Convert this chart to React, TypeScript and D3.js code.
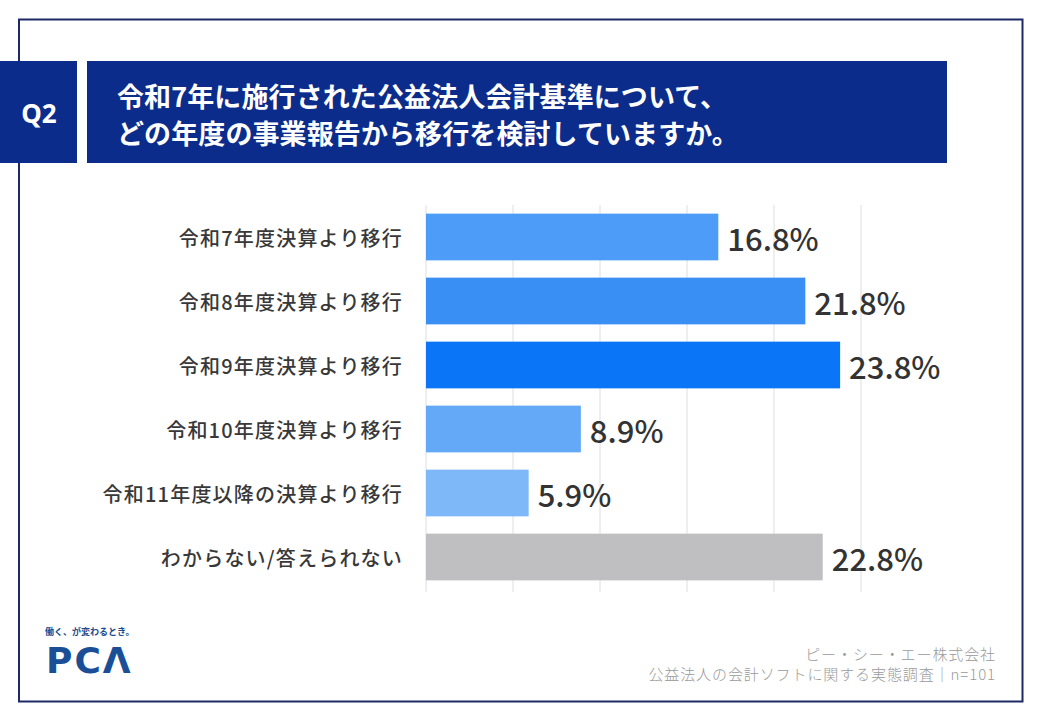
import React from 'react';
import * as d3 from 'd3';

// Survey answers and their shares (%)
const categories = [
  '令和7年度決算より移行',
  '令和8年度決算より移行',
  '令和9年度決算より移行',
  '令和10年度決算より移行',
  '令和11年度以降の決算より移行',
  'わからない/答えられない',
];
const values = [16.8, 21.8, 23.8, 8.9, 5.9, 22.8];
const barColors = ['#4d9cf7', '#3a8ff5', '#0a75f6', '#63a9f7', '#7fb8f8', '#bfbec1'];
const gridTicks = [0, 5, 10, 15, 20, 25];

const titleLines = [
  '令和7年に施行された公益法人会計基準について、',
  'どの年度の事業報告から移行を検討していますか。',
];
const footerLines = ['ピー・シー・エー株式会社', '公益法人の会計ソフトに関する実態調査｜n=101'];

const W = 1040;
const H = 720;
const JP = '"Noto Sans CJK JP", "Noto Sans", sans-serif';
const NAVY = '#0c2c8c';

const App: React.FC = () => {
  const x = d3.scaleLinear().domain([0, 25]).range([426, 861]);
  const y = d3
    .scaleBand<string>()
    .domain(categories)
    .range([205, 589])
    .paddingInner(0.27)
    .paddingOuter(0.135);

  const gridTop = 205;
  const gridBottom = 592;

  return (
    <svg
      width={W}
      height={H}
      viewBox={`0 0 ${W} ${H}`}
      style={{ position: 'absolute', left: 0, top: 0, background: '#fff' }}
    >
      <rect x={0} y={0} width={W} height={H} fill="#fff" />

      {/* outer frame */}
      <rect x={19} y={19.5} width={1003.5} height={682} fill="none" stroke="#1d2a66" strokeWidth={2} />

      {/* question header */}
      <rect x={0} y={61} width={77} height={102} fill={NAVY} />
      <text
        x={39}
        y={113}
        textAnchor="middle"
        dominantBaseline="central"
        fill="#fff"
        fontFamily='"Noto Sans", sans-serif'
        fontWeight={700}
        fontSize={26}
      >
        Q2
      </text>
      <rect x={87} y={61} width={860} height={102} fill={NAVY} />
      {titleLines.map((line, i) => (
        <text
          key={line}
          x={117}
          y={95 + i * 37}
          dominantBaseline="central"
          fill="#fff"
          fontFamily={JP}
          fontWeight={700}
          fontSize={27}
          letterSpacing={0.1}
        >
          {line}
        </text>
      ))}

      {/* grid */}
      {gridTicks.map((t) => (
        <line
          key={t}
          x1={x(t)}
          x2={x(t)}
          y1={gridTop}
          y2={gridBottom}
          stroke="#dedede"
          strokeWidth={1}
        />
      ))}

      {/* bars */}
      {categories.map((c, i) => {
        const by = y(c)!;
        const bh = y.bandwidth();
        return (
          <g key={c}>
            <rect x={x(0)} y={by} width={x(values[i]) - x(0)} height={bh} fill={barColors[i]} />
            <text
              x={403}
              y={by + bh / 2}
              textAnchor="end"
              dominantBaseline="central"
              fill="#383838"
              fontFamily={JP}
              fontWeight={500}
              fontSize={20}
              letterSpacing={1.2}
            >
              {c}
            </text>
            <text
              x={x(values[i]) + 9}
              y={by + bh / 2}
              dominantBaseline="central"
              fill="#333"
              fontFamily={JP}
              fontWeight={500}
              fontSize={31}
            >
              {`${values[i].toFixed(1)}%`}
            </text>
          </g>
        );
      })}

      {/* logo */}
      <text x={45} y={635} fill="#1b4c8f" fontFamily={JP} fontWeight={700} fontSize={9}>
        働く、が変わるとき。
      </text>
      <text
        x={46}
        y={673}
        fill="#1a4f98"
        fontFamily='"DejaVu Sans", sans-serif'
        fontWeight={700}
        fontSize={36}
        letterSpacing={2}
      >
        PCΛ
      </text>

      {/* source */}
      {footerLines.map((line, i) => (
        <text
          key={line}
          x={996}
          y={659.5 + i * 20.5}
          textAnchor="end"
          fill="#9a9a9a"
          fontFamily={JP}
          fontWeight={300}
          fontSize={15}
          letterSpacing={0.9}
        >
          {line}
        </text>
      ))}
    </svg>
  );
};

export default App;
